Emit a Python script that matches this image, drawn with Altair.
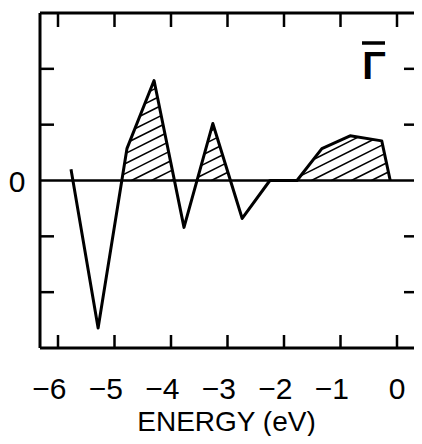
import altair as alt
import numpy as np
import pandas as pd

# ---- data ----
energy = [-5.77, -5.29, -4.78, -4.30, -3.77, -3.26, -2.74, -2.25, -1.77, -1.33, -0.83, -0.27, -0.12]
value = [0.20, -2.64, 0.57, 1.79, -0.84, 1.02, -0.68, 0.0, 0.0, 0.57, 0.80, 0.71, 0.0]
x_ticks = [-6, -5, -4, -3, -2, -1, 0]
y_ticks = [-2, -1, 1, 2]
y_labels = [0]
panel_label = ["Γ"]
x_title = "ENERGY (eV)"

W, H = 374, 335
FONT = "Liberation Sans"

# -6 sits 18 px right of the frame, 56.5 px per eV
x_lo = -6 - 18 / 56.5
x_hi = x_lo + W / 56.5
xs = alt.Scale(domain=[x_lo, x_hi], nice=False, zero=False)
ys = alt.Scale(domain=[-3, 3], nice=False, zero=False)

x_axis = alt.Axis(
    values=x_ticks,
    format="d",
    grid=False,
    domain=False,
    ticks=False,
    labelFont=FONT,
    labelFontSize=30,
    labelColor="black",
    labelAlign="right",
    labelOffset=8,
    labelPadding=26,
    labelFlush=False,
    labelOverlap=False,
    title=x_title,
    titleFont=FONT,
    titleFontSize=28,
    titleFontWeight="normal",
    titleColor="black",
    titleBaseline="alphabetic",
    titleAlign="center",
    titleX=186,
    titleY=82,
)
y_axis = alt.Axis(
    values=y_labels,
    format="d",
    grid=False,
    domain=False,
    ticks=False,
    labelFont=FONT,
    labelFontSize=30,
    labelColor="black",
    labelPadding=15,
    labelOffset=2,
    title=None,
)


def X(field):
    return alt.X(field, scale=xs, axis=x_axis)


def Y(field):
    return alt.Y(field, scale=ys, axis=y_axis)


curve = pd.DataFrame({"e": energy, "v": value, "i": range(len(energy))})

# ---- hatch lines for positive areas (derived from the curve) ----
slope = 0.5 * 56.5 / (H / 6.0)
step = 10.0 / (H / 6.0)
xf = np.linspace(energy[0], energy[-1], 6000)
fx = np.interp(xf, energy, value)
segs = []
for c in np.arange(0.05, 6.0, step):
    ly = slope * xf + c
    inside = (ly > 0) & (ly < fx)
    d = np.diff(inside.astype(int))
    starts = list(np.where(d == 1)[0] + 1)
    ends = list(np.where(d == -1)[0])
    if inside[0]:
        starts.insert(0, 0)
    if inside[-1]:
        ends.append(len(xf) - 1)
    for s, e in zip(starts, ends):
        if e > s:
            segs.append({"x0": xf[s], "y0": ly[s], "x1": xf[e], "y1": ly[e]})
hatch_df = pd.DataFrame(segs)

hatch = alt.Chart(hatch_df).mark_rule(color="black", strokeWidth=1.5).encode(
    x=X("x0:Q"), y=Y("y0:Q"), x2="x1:Q", y2="y1:Q"
)

zero = alt.Chart(pd.DataFrame({"z": [0]})).mark_rule(color="black", strokeWidth=2.5).encode(
    y=Y("z:Q")
)

line = alt.Chart(curve).mark_line(color="black", strokeWidth=3, strokeJoin="round").encode(
    x=X("e:Q"), y=Y("v:Q"), order="i:Q"
)

# open frame (right side lies outside the picture in the reference)
frame_style = dict(color="black", strokeWidth=3)
frame_top = alt.Chart(pd.DataFrame({"k": [0]})).mark_rule(**frame_style).encode(
    x=alt.value(0), x2=alt.value(W), y=alt.value(0)
)
frame_bottom = alt.Chart(pd.DataFrame({"k": [0]})).mark_rule(**frame_style).encode(
    x=alt.value(0), x2=alt.value(W), y=alt.value(H)
)
frame_left = alt.Chart(pd.DataFrame({"k": [0]})).mark_rule(**frame_style).encode(
    y=alt.value(0), y2=alt.value(H), x=alt.value(0)
)

xt = pd.DataFrame({"t": x_ticks})
yt = pd.DataFrame({"t": y_ticks})
tick_style = dict(color="black", strokeWidth=2.5)
bottom_ticks = alt.Chart(xt).mark_rule(**tick_style).encode(
    x=X("t:Q"), y=alt.value(H), y2=alt.value(H - 13)
)
top_ticks = alt.Chart(xt).mark_rule(**tick_style).encode(
    x=X("t:Q"), y=alt.value(0), y2=alt.value(14)
)
left_ticks = alt.Chart(yt).mark_rule(**tick_style).encode(
    y=Y("t:Q"), x=alt.value(0), x2=alt.value(14)
)
right_ticks = alt.Chart(yt).mark_rule(**tick_style).encode(
    y=Y("t:Q"), x=alt.value(W), x2=alt.value(W - 10)
)

label = alt.Chart(pd.DataFrame({"s": panel_label})).mark_text(
    font=FONT, fontSize=39, fontWeight="bold", color="black", align="center", baseline="alphabetic"
).encode(text="s:N", x=alt.value(334), y=alt.value(66))
label_bar = alt.Chart(pd.DataFrame({"k": [0]})).mark_rule(color="black", strokeWidth=3.5).encode(
    x=alt.value(322), x2=alt.value(345), y=alt.value(30)
)

chart = (
    alt.layer(
        hatch, zero, line, frame_top, frame_bottom, frame_left,
        bottom_ticks, top_ticks, left_ticks, right_ticks, label, label_bar,
    )
    .properties(
        width=W,
        height=H,
        autosize=alt.AutoSizeParams(type="none"),
        padding={"left": 32, "top": 5, "right": 0, "bottom": 88},
        background="white",
    )
    .configure_view(stroke=None)
)

chart.save("out.html", embed_options={"renderer": "svg", "actions": False})
